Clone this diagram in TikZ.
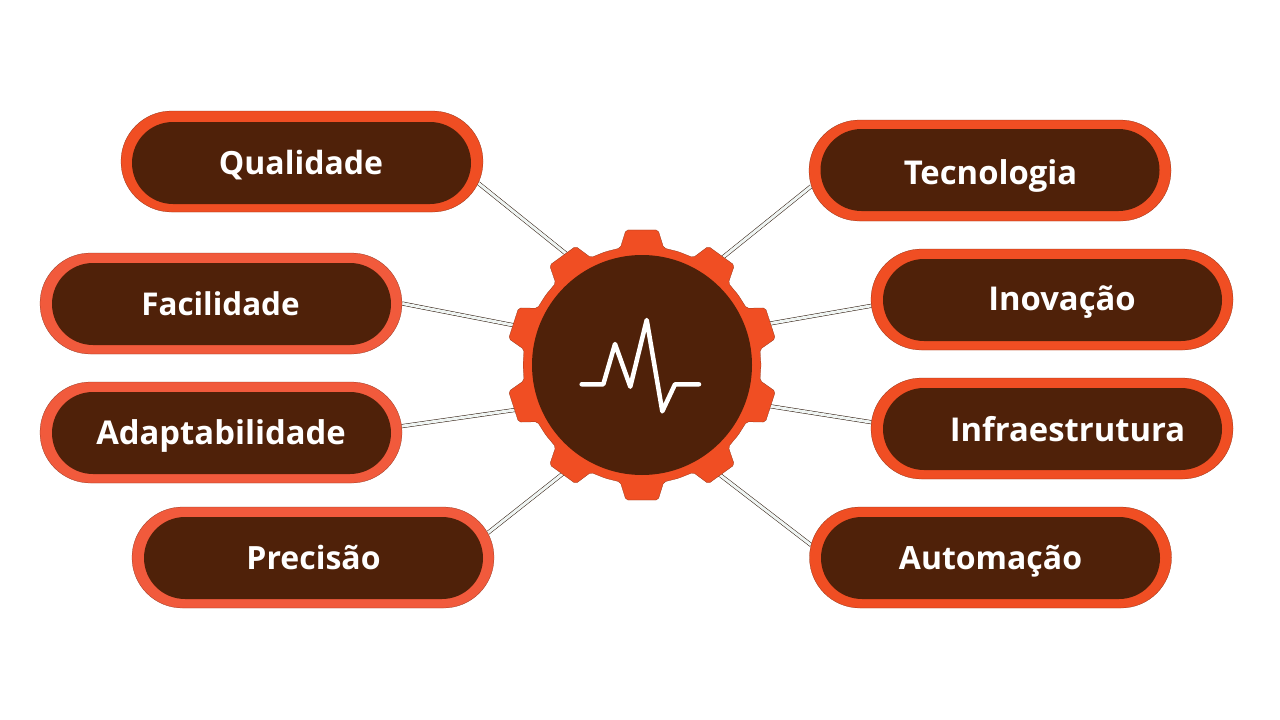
\documentclass[tikz,border=0pt]{standalone}
\usepackage{fontspec}
\setmainfont{Open Sans}
\usepackage{tikz}
\usetikzlibrary{shapes.misc, backgrounds}
\definecolor{rimred}{HTML}{F04E23}
\definecolor{rimsoft}{HTML}{F15A3C}
\definecolor{bodybrown}{HTML}{4F2109}
\definecolor{linkpale}{HTML}{EFF5F3}
\definecolor{edgedark}{HTML}{2A1408}
\tikzstyle{rim} = [rounded rectangle, minimum width=362pt, minimum height=101pt, inner sep=0pt, draw=edgedark!50!rimred, line width=0.25pt, fill=rimred]
\tikzstyle{rimlight} = [rim, draw=edgedark!50!rimsoft, fill=rimsoft]
\tikzstyle{body} = [rounded rectangle, minimum width=339pt, minimum height=82pt, inner sep=0pt, fill=bodybrown]
\tikzstyle{word} = [text=white, font=\bfseries\fontsize{32}{36}\selectfont, inner sep=0pt, anchor=base]
\tikzstyle{wordbig} = [word, font=\bfseries\fontsize{32.8}{36}\selectfont]
\tikzstyle{wordsmall} = [word, font=\bfseries\fontsize{31.4}{36}\selectfont]
\tikzstyle{link} = [draw=edgedark, line width=0.5pt, double=linkpale, double distance=3pt]

\begin{document}
\begin{tikzpicture}[x=1pt, y=-1pt]
		\useasboundingbox (0,0) rectangle (1280,720);
		\node (qual) [rim] at (302,161.5) {};
		\node (qualin) [body] at (301.5,163) {};
		\node (qualtxt) [word] at (301,174) {Qualidade};
		\node (faci) [rimlight] at (221,303.5) {};
		\node (faciin) [body] at (221.5,304) {};
		\node (facitxt) [wordsmall] at (220.5,315) {Facilidade};
		\node (adap) [rimlight] at (221,432.5) {};
		\node (adapin) [body] at (221.5,433) {};
		\node (adaptxt) [wordbig] at (221,444) {Adaptabilidade};
		\node (prec) [rimlight] at (313,557.5) {};
		\node (precin) [body] at (313.5,558) {};
		\node (prectxt) [word] at (313.5,569) {Precisão};
		\node (tecn) [rim] at (990,170.5) {};
		\node (tecnin) [body] at (990,170) {};
		\node (tecntxt) [wordbig] at (990.5,184) {Tecnologia};
		\node (inov) [rim] at (1052,299.5) {};
		\node (inovin) [body] at (1052.5,300) {};
		\node (inovtxt) [wordbig] at (1062,310) {Inovação};
		\node (infr) [rim] at (1052,428.5) {};
		\node (infrin) [body] at (1052.5,429) {};
		\node (infrtxt) [wordbig] at (1067.5,441) {Infraestrutura};
		\node (auto) [rim] at (990.5,557.5) {};
		\node (autoin) [body] at (990.5,558) {};
		\node (autotxt) [word] at (990.5,569) {Automação};

		\node (gear) [circle, minimum size=238pt, inner sep=0pt] at (642,365) {};
		\draw [draw=edgedark!50!rimred, line width=0.25pt, fill=rimred, rounded corners=2pt, shift={(gear.center)}] (0:119)
			\foreach \a in {18,54,...,342} {
				-- (\a-10.5:119) -- (\a-6.8:136) -- (\a+6.8:136) -- (\a+10.5:119) -- (\a+18:119)
			} -- cycle;
		\node (hub) [circle, minimum size=220pt, inner sep=0pt, fill=bodybrown] at (gear.center) {};
		\draw [white, line width=4.5pt, line cap=round, line join=round] (581.7,384.3) -- (603.3,384.3) -- (615,344) -- (630.3,386.7) -- (646.7,320) -- (662.3,411.3) -- (675,384.3) -- (699,384.3);

		\begin{pgfonlayer}{background}
			\draw [link] (qual.-7) -- (gear.122.9);
			\draw [link] (faci.0) -- (gear.162.5);
			\draw [link] (adap.2.7) -- (gear.201.2);
			\draw [link] (prec.8.4) -- (gear.236.8);
			\draw [link] (tecn.185) -- (gear.55.5);
			\draw [link] (inov.182.7) -- (gear.19.4);
			\draw [link] (infr.178.9) -- (gear.-19.7);
			\draw [link] (auto.176.3) -- (gear.-57);
		\end{pgfonlayer}
\end{tikzpicture}
\end{document}
